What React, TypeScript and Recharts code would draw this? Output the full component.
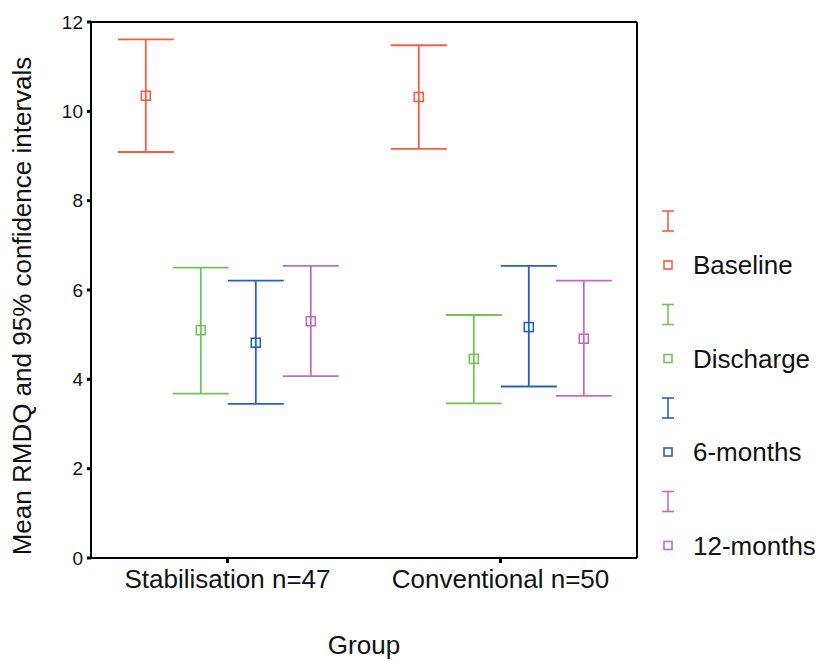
import React from "react";
import { BarChart, Bar, XAxis, YAxis, ErrorBar, Legend } from "recharts";

const FONT = "'Liberation Sans', Arial, Helvetica, sans-serif";

const groups = ["Stabilisation n=47", "Conventional n=50"];
const seriesNames = ["Baseline", "Discharge", "6-months", "12-months"];
const seriesColors = ["#f2603e", "#72c455", "#2b5ec4", "#c26dbb"];

// mean and 95% CI, [stabilisation, conventional]
const baselineMean = [10.35, 10.32];
const baselineLow = [9.09, 9.16];
const baselineHigh = [11.61, 11.48];

const dischargeMean = [5.1, 4.46];
const dischargeLow = [3.68, 3.46];
const dischargeHigh = [6.5, 5.44];

const sixMonthMean = [4.82, 5.17];
const sixMonthLow = [3.45, 3.84];
const sixMonthHigh = [6.21, 6.54];

const twelveMonthMean = [5.3, 4.91];
const twelveMonthLow = [4.07, 3.63];
const twelveMonthHigh = [6.54, 6.21];

const yTicks = [0, 2, 4, 6, 8, 10, 12];

const stats = [
  { mean: baselineMean, low: baselineLow, high: baselineHigh },
  { mean: dischargeMean, low: dischargeLow, high: dischargeHigh },
  { mean: sixMonthMean, low: sixMonthLow, high: sixMonthHigh },
  { mean: twelveMonthMean, low: twelveMonthLow, high: twelveMonthHigh },
];

const data = groups.map((group, i) => {
  const row: Record<string, any> = { group };
  stats.forEach((s, k) => {
    row[`m${k}`] = s.mean[i];
    row[`e${k}`] = [s.mean[i] - s.low[i], s.high[i] - s.mean[i]];
  });
  return row;
});

const meanSquare = (color: string) => (props: any) => {
  const { x, y, width } = props;
  if (x == null || y == null) return <g />;
  const cx = x + width / 2;
  return (
    <rect
      x={cx - 4.5}
      y={y - 4.5}
      width={9}
      height={9}
      fill="none"
      stroke={color}
      strokeWidth={1.6}
    />
  );
};

function LegendBox() {
  return (
    <svg width={160} height={380} style={{ display: "block" }}>
      {seriesNames.map((name, k) => {
        const top = k * 93.5;
        const c = seriesColors[k];
        return (
          <g key={name}>
            <line x1={13} x2={13} y1={top + 11} y2={top + 31} stroke={c} strokeWidth={1.6} />
            <line x1={7} x2={19} y1={top + 11} y2={top + 11} stroke={c} strokeWidth={1.6} />
            <line x1={7} x2={19} y1={top + 31} y2={top + 31} stroke={c} strokeWidth={1.6} />
            <rect x={9} y={top + 61} width={8} height={8} fill="none" stroke={c} strokeWidth={1.6} />
            <text
              x={38}
              y={top + 65}
              dominantBaseline="central"
              fontFamily={FONT}
              fontSize={26}
              fill="#111"
            >
              {name}
            </text>
          </g>
        );
      })}
    </svg>
  );
}

export default function App() {
  return (
    <div style={{ position: "absolute", left: 0, top: 0, background: "#fff" }}>
      <BarChart
        width={816}
        height={661}
        data={data}
        margin={{ top: 21, right: 178, bottom: 0, left: 0 }}
        barCategoryGap="10%"
        barGap={0}
      >
        <XAxis
          dataKey="group"
          height={103}
          axisLine={{ stroke: "#000", strokeWidth: 2 }}
          tickLine={{ stroke: "#000", strokeWidth: 3 }}
          tickSize={5}
          tickMargin={7}
          tick={{ fill: "#111", fontSize: 26, fontFamily: FONT }}
          label={{
            content: (p: any) => {
              const vb = p.viewBox;
              return (
                <text
                  x={vb.x + vb.width / 2}
                  y={vb.y + 87}
                  textAnchor="middle"
                  dominantBaseline="central"
                  fontFamily={FONT}
                  fontSize={26}
                  fill="#111"
                >
                  Group
                </text>
              );
            },
          }}
        />
        <XAxis
          xAxisId="frame"
          dataKey="group"
          orientation="top"
          height={1}
          axisLine={{ stroke: "#000", strokeWidth: 2 }}
          tick={false}
          tickLine={false}
        />
        <YAxis
          domain={[0, 12]}
          ticks={yTicks}
          width={91}
          axisLine={{ stroke: "#000", strokeWidth: 2 }}
          tickLine={{ stroke: "#000", strokeWidth: 3 }}
          tickSize={4}
          tickMargin={4}
          tick={{ fill: "#111", fontSize: 19, fontFamily: FONT }}
          label={{
            content: (p: any) => {
              const vb = p.viewBox;
              const cx = vb.x + 22;
              const cy = vb.y + vb.height / 2 + 16;
              return (
                <text
                  x={cx}
                  y={cy}
                  transform={`rotate(-90, ${cx}, ${cy})`}
                  textAnchor="middle"
                  dominantBaseline="central"
                  fontFamily={FONT}
                  fontSize={26}
                  fill="#111"
                >
                  Mean RMDQ and 95% confidence intervals
                </text>
              );
            },
          }}
        />
        <YAxis
          yAxisId="frame"
          orientation="right"
          domain={[0, 12]}
          width={1}
          axisLine={{ stroke: "#000", strokeWidth: 2 }}
          tick={false}
          tickLine={false}
        />
        {seriesNames.map((name, k) => (
          <Bar
            key={name}
            name={name}
            dataKey={`m${k}`}
            fill="none"
            shape={meanSquare(seriesColors[k])}
            isAnimationActive={false}
          >
            <ErrorBar
              dataKey={`e${k}`}
              width={28}
              stroke={seriesColors[k]}
              strokeWidth={1.8}
              direction="y"
              isAnimationActive={false}
            />
          </Bar>
        ))}
        <Legend
          layout="vertical"
          align="center"
          verticalAlign="middle"
          content={() => <LegendBox />}
          wrapperStyle={{ left: 655, top: 200, width: 160, height: 380 }}
        />
      </BarChart>
    </div>
  );
}
